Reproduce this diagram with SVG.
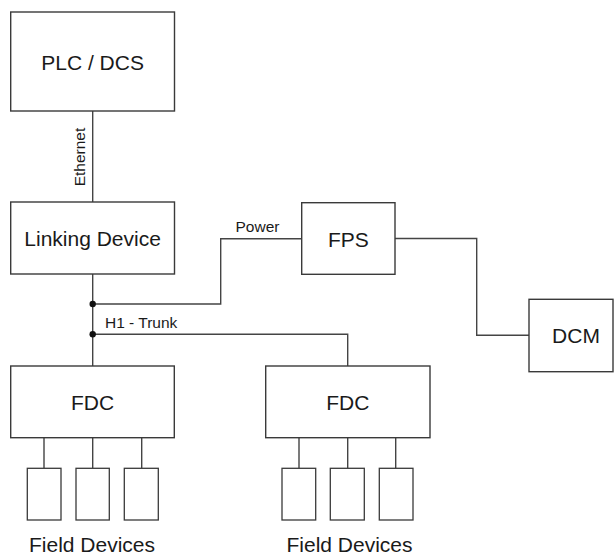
<svg xmlns="http://www.w3.org/2000/svg" width="614" height="555" viewBox="0 0 614 555">
<style>
.box{fill:#fff;stroke:#3a3a3a;stroke-width:1.4}
.dev{fill:#fff;stroke:#3a3a3a;stroke-width:1.3}
.ln{fill:none;stroke:#444;stroke-width:1.4}
.t{font-family:"Liberation Sans",Arial,sans-serif;font-size:21px;fill:#1a1a1a;text-anchor:middle}
.s{font-family:"Liberation Sans",Arial,sans-serif;font-size:15.5px;fill:#1a1a1a}
</style>
<rect width="614" height="555" fill="#fff"/>
<g id="connectors">
<path class="ln" d="M92.7,111 V202"/>
<path class="ln" d="M92.7,274 V366"/>
<path class="ln" d="M92.7,304 H220.7 V238.7 H301.7"/>
<path class="ln" d="M92.7,334.3 H347.7 V366"/>
<path class="ln" d="M395,238.5 H476.7 V335.3 H529"/>
<path class="ln" d="M44,437.7 V468.3 M92.7,437.7 V468.3 M141.7,437.7 V468.3"/>
<path class="ln" d="M299,437.7 V468.3 M347.7,437.7 V468.3 M395.7,437.7 V468.3"/>
<circle cx="92.7" cy="304" r="3.2" fill="#111"/>
<circle cx="92.7" cy="334.3" r="3.2" fill="#111"/>
<text class="s" transform="translate(85,157) rotate(-90)" text-anchor="middle">Ethernet</text>
<text class="s" x="235.5" y="232">Power</text>
<text class="s" x="105" y="327.5">H1 - Trunk</text>
</g>
<g id="plc">
<rect class="box" x="10.7" y="12" width="163.8" height="99"/>
<text class="t" x="92.6" y="70">PLC / DCS</text>
</g>
<g id="linking">
<rect class="box" x="10.7" y="202" width="163.8" height="72"/>
<text class="t" x="92.6" y="245.5">Linking Device</text>
</g>
<g id="fps">
<rect class="box" x="301.7" y="202.7" width="93.3" height="71.6"/>
<text class="t" x="348.3" y="246.5">FPS</text>
</g>
<g id="dcm">
<rect class="box" x="529" y="299.3" width="84" height="72.4"/>
<text class="t" x="576" y="343">DCM</text>
</g>
<g id="fdc1">
<rect class="box" x="10.7" y="366" width="163.6" height="71.7"/>
<text class="t" x="92.5" y="410">FDC</text>
</g>
<g id="fdc2">
<rect class="box" x="265.7" y="366" width="164.3" height="71.7"/>
<text class="t" x="347.8" y="410">FDC</text>
</g>
<g id="devices1">
<rect class="dev" x="27.3" y="468.3" width="33.7" height="51.7"/>
<rect class="dev" x="76" y="468.3" width="33.3" height="51.7"/>
<rect class="dev" x="124.3" y="468.3" width="34" height="51.7"/>
<text class="t" x="92" y="552">Field Devices</text>
</g>
<g id="devices2">
<rect class="dev" x="282" y="468.3" width="33.7" height="51.7"/>
<rect class="dev" x="330.3" y="468.3" width="34" height="51.7"/>
<rect class="dev" x="379.3" y="468.3" width="33.7" height="51.7"/>
<text class="t" x="349.5" y="552">Field Devices</text>
</g>
</svg>
